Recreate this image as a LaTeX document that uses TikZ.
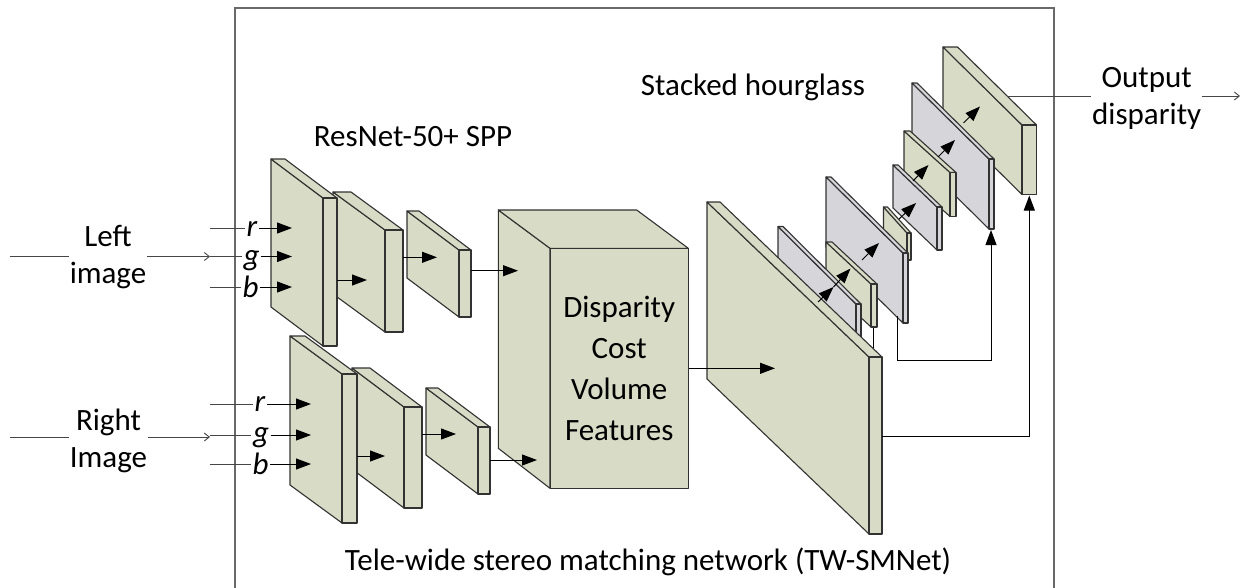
\documentclass[tikz,border=0pt]{standalone}
\usepackage{fontspec}
\setmainfont{Carlito}
\usetikzlibrary{arrows.meta}
\definecolor{plategreen}{RGB}{216,220,198}
\definecolor{plategray}{RGB}{214,214,218}
\definecolor{edgecol}{RGB}{50,50,50}
\definecolor{framegray}{RGB}{105,105,105}
\definecolor{linegray}{RGB}{70,70,70}
% #1 fill, #2 xl, #3 yl, #4 xf, #5 yf, #6 thickness, #7 height
\newcommand{\myplate}[7]{%
  \filldraw[platestyle, fill=#1] (#2,#3) -- (#4,#5) -- (#4,#5+#7) -- (#2,#3+#7) -- cycle;
  \filldraw[platestyle, fill=#1] (#2,#3) -- (#2+#6,#3) -- (#4+#6,#5) -- (#4,#5) -- cycle;
  \filldraw[platestyle, fill=#1] (#4,#5) rectangle (#4+#6,#5+#7);
}
\begin{document}
\begin{tikzpicture}[x=1pt, y=-1pt,
  platestyle/.style={draw=edgecol, line width=1.1pt, line join=round},
  arr/.style={draw=black, line width=1pt, -{Triangle[length=15pt,width=11pt]}},
  darr/.style={draw=black, line width=1pt, -{Triangle[length=15pt,width=11pt]}},
  conn/.style={draw=black, line width=0.9pt},
  inline/.style={draw=linegray, line width=0.9pt},
  inarr/.style={draw=linegray, line width=0.9pt, -{Straight Barb[length=5pt,width=8pt]}},
  lbl/.style={font=\fontsize{31}{37}\selectfont, align=center, inner sep=1pt},
  rgb/.style={font=\fontsize{31}{33}\selectfont\itshape, inner sep=1.5pt, anchor=base},
  framestyle/.style={draw=framegray, line width=1.6pt}]
\useasboundingbox (0,0) rectangle (1245,587);

% outer frame
\draw[framestyle] (235,600) -- (235,8) -- (1054,8) -- (1054,600);

% titles
\node[lbl, anchor=base] (resnet) at (413,146) {ResNet-50+ SPP};
\node[lbl, anchor=base] (hourglass) at (753,95) {Stacked hourglass};
\node[lbl, anchor=base] (tw) at (648,570) {Tele-wide stereo matching network (TW-SMNet)};

% input labels
\node[lbl] (leftlbl) at (108,257.5) {Left\\image};
\node[lbl] (rightlbl) at (108.5,440.5) {Right\\Image};
\node[lbl] (outlbl) at (1146.7,98) {Output\\disparity};

% ---------------- left (top) feature extractor ----------------
\myplate{plategreen}{407}{211}{459}{250}{12}{67}
\myplate{plategreen}{333}{192}{385}{230}{18}{102}
\myplate{plategreen}{271}{159}{323}{198}{14}{148}

% ---------------- right (bottom) feature extractor ----------------
\myplate{plategreen}{426}{388}{478}{427}{12}{67}
\myplate{plategreen}{352}{368}{404}{407}{18}{101}
\myplate{plategreen}{290}{336}{342}{374}{15}{149}

% ---------------- cost volume cube ----------------
\filldraw[platestyle, fill=plategreen] (498.3,210) -- (550,248.3) -- (550,488.3) -- (498.3,448.3) -- cycle;
\filldraw[platestyle, fill=plategreen] (498.3,210) -- (636.7,210) -- (688.3,248.3) -- (550,248.3) -- cycle;
\node[platestyle, fill=plategreen, minimum width=138.3pt, minimum height=240pt, inner sep=0pt,
  font=\fontsize{31}{41}\selectfont, align=center] (cube) at (619.2,368.3)
  {Disparity\\Cost\\Volume\\Features};

% ---------------- stacked hourglass (back to front) ----------------
\myplate{plategreen}{943}{47}{1022}{125}{14.5}{69.5}
\myplate{plategray}{912}{83}{989}{159}{5}{70}
\myplate{plategreen}{904}{131}{950}{172.5}{6}{44}
\myplate{plategray}{893}{165}{937}{207}{5}{43}
\myplate{plategreen}{883.5}{207}{907}{233}{4}{27}
\myplate{plategray}{826}{177}{903}{253}{5}{70}
\myplate{plategreen}{826}{242}{871}{284}{6}{43}
\myplate{plategray}{778}{226.5}{856}{304}{5}{75}
% link from second plate down to the big plate
\coordinate (p2b) at (873.5,327.5);
\coordinate (bigtop) at (873.5,349);
\draw[conn] (p2b) -- (bigtop);
% big plate
\myplate{plategreen}{707}{202}{869}{357}{13}{177}

% ---------------- coordinates for connectors ----------------
\coordinate (inL) at (10,256.5);
\coordinate (tipL) at (210,256.5);
\coordinate (inR) at (10,437);
\coordinate (tipR) at (210,437);

\coordinate (rTs) at (210,228);   \coordinate (rTe) at (292,228);
\coordinate (gTe) at (292,256.5);
\coordinate (bTs) at (210,287);   \coordinate (bTe) at (292,287);
\coordinate (rBs) at (210,404);   \coordinate (rBe) at (311,404);
\coordinate (gBs) at (210,435);   \coordinate (gBe) at (311,435);
\coordinate (bBs) at (210,464);   \coordinate (bBe) at (311,464);

\coordinate (l1o) at (337.3,280);   \coordinate (l2i) at (367,280);
\coordinate (l2o) at (403,257.3);   \coordinate (l3i) at (437,257.3);
\coordinate (l3o) at (471,270.7);   \coordinate (cubeL) at (518,270.7);
\coordinate (b1o) at (357,456);     \coordinate (b2i) at (385,456);
\coordinate (b2o) at (422,434);     \coordinate (b3i) at (456,434);
\coordinate (b3o) at (490,460);     \coordinate (cubeR) at (537,460);
\coordinate (bigin) at (775,368.3);

\coordinate (h1a) at (818,302);   \coordinate (h1b) at (833.5,287);
\coordinate (h2b) at (850.5,268.5);
\coordinate (h3a) at (862,260);   \coordinate (h3b) at (879,243);
\coordinate (h4a) at (899,219);   \coordinate (h4b) at (916,203);
\coordinate (h5a) at (913,181);   \coordinate (h5b) at (928.5,165);
\coordinate (h6a) at (938,157);   \coordinate (h6b) at (955,140);
\coordinate (h7a) at (963.5,123); \coordinate (h7b) at (980,106.5);

\coordinate (p3out) at (897,316);
\coordinate (s1a) at (897,360);
\coordinate (s1b) at (991,360);
\coordinate (p7in) at (991,230);
\coordinate (bigout) at (882.3,436);
\coordinate (s2a) at (1029.3,436);
\coordinate (p8in) at (1029.3,195.5);

\coordinate (p8out) at (1007,96);
\coordinate (outend) at (1240,96);

% ---------------- input lines ----------------
\draw[inline] (inL) -- (leftlbl.west |- inL);
\draw[inarr] (leftlbl.east |- inL) -- (tipL);
\draw[inline] (inR) -- (rightlbl.west |- inR);
\draw[inarr] (rightlbl.east |- inR) -- (tipR);

% r g b (left)
\node[rgb] (rT) at (252,236.5) {r};
\node[rgb] (gT) at (251.5,265) {g};
\node[rgb] (bT) at (250.5,297.5) {b};
\draw[inline] (rTs) -- (rT.west |- rTs);
\draw[inline] (tipL) -- (gT.west |- tipL);
\draw[inline] (bTs) -- (bT.west |- bTs);
\draw[arr] (rT.east |- rTs) -- (rTe);
\draw[arr] (gT.east |- tipL) -- (gTe);
\draw[arr] (bT.east |- bTs) -- (bTe);

% r g b (right)
\node[rgb] (rB) at (260,411.5) {r};
\node[rgb] (gB) at (261,442.5) {g};
\node[rgb] (bB) at (260.5,474) {b};
\draw[inline] (rBs) -- (rB.west |- rBs);
\draw[inline] (gBs) -- (gB.west |- gBs);
\draw[inline] (bBs) -- (bB.west |- bBs);
\draw[arr] (rB.east |- rBs) -- (rBe);
\draw[arr] (gB.east |- gBs) -- (gBe);
\draw[arr] (bB.east |- bBs) -- (bBe);

% feature arrows
\draw[arr] (l1o) -- (l2i);
\draw[arr] (l2o) -- (l3i);
\draw[arr] (l3o) -- (cubeL);
\draw[arr] (b1o) -- (b2i);
\draw[arr] (b2o) -- (b3i);
\draw[arr] (b3o) -- (cubeR);
\draw[arr] (cube.east |- bigin) -- (bigin);

% hourglass arrows
\draw[darr] (h1a) -- (h1b);
\draw[darr] (h1b) -- (h2b);
\draw[darr] (h3a) -- (h3b);
\draw[darr] (h4a) -- (h4b);
\draw[darr] (h5a) -- (h5b);
\draw[darr] (h6a) -- (h6b);
\draw[darr] (h7a) -- (h7b);

% skip connections
\draw[arr] (p3out) -- (s1a) -- (s1b) -- (p7in);
\draw[arr] (bigout) -- (s2a) -- (p8in);

% output
\draw[inline] (p8out) -- (outlbl.west |- p8out);
\draw[inarr] (outlbl.east |- p8out) -- (outend);
\end{tikzpicture}
\end{document}
